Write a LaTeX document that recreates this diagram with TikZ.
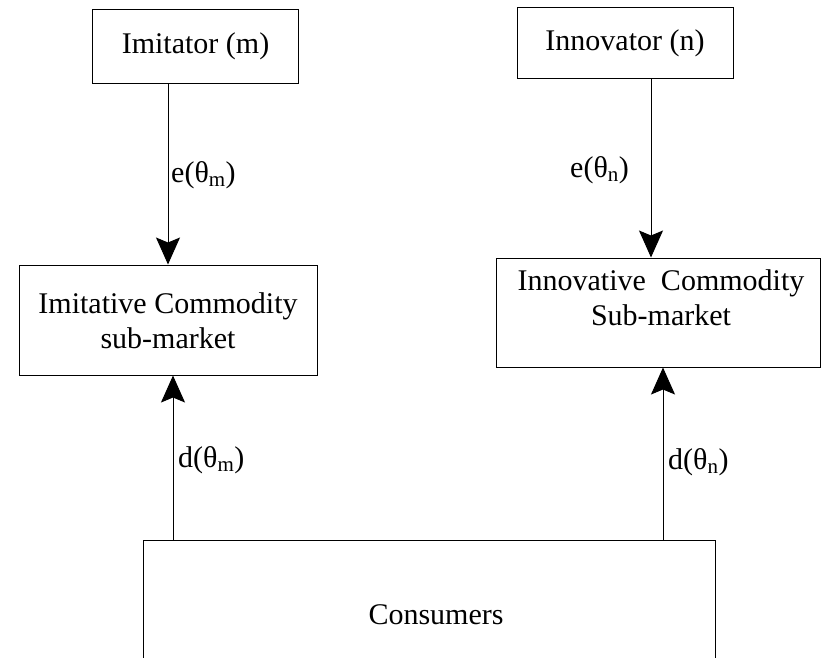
\documentclass[tikz,border=0pt]{standalone}
\usepackage{fontspec}
\setmainfont{Liberation Serif}
\usetikzlibrary{arrows.meta}
\begin{document}
\begin{tikzpicture}[x=1pt,y=-1pt,
  box/.style={draw, line width=1pt, inner sep=0pt},
  txt/.style={inner sep=0pt, align=center, font=\fontsize{30}{35}\selectfont},
  lbl/.style={inner sep=0pt, anchor=west, font=\fontsize{30}{35}\selectfont},
  arr/.style={line width=1pt, -{Stealth[length=27pt,width=24pt,inset=5pt]}}]
\useasboundingbox (0,0) rectangle (823,657);
\clip (0,0) rectangle (823,657);
% boxes
\node[box, minimum width=206pt, minimum height=74pt]  (imitator)   at (195,46)    {};
\node[box, minimum width=216pt, minimum height=71pt]  (innovator)  at (625,42.5)  {};
\node[box, minimum width=298pt, minimum height=110pt] (imitative)  at (168,320)   {};
\node[box, minimum width=324pt, minimum height=109pt] (innovative) at (658,312.5) {};
\node[box, minimum width=572pt, minimum height=150pt] (consumers)  at (429,615)   {};
% texts
\node[txt] (timitator)   at (195.5,46) {Imitator (m)};
\node[txt] (tinnovator)  at (625,43)   {Innovator (n)};
\node[txt] (timitative)  at (168,321)  {Imitative Commodity\\sub-market};
\node[txt] (tinnovative) at (661,298)  {Innovative\ \ Commodity\\Sub-market};
\node[txt] (tconsumers)  at (436,615)  {Consumers};
% connector x positions
\coordinate (xa) at (168,0);
\coordinate (xb) at (651,0);
\coordinate (xc) at (173,0);
\coordinate (xd) at (663,0);
\draw[arr] (imitator.south -| xa) -- (imitative.north -| xa);
\draw[arr] (innovator.south -| xb) -- (innovative.north -| xb);
\draw[arr] (consumers.north -| xc) -- (imitative.south -| xc);
\draw[arr] (consumers.north -| xd) -- (innovative.south -| xd);
% labels
\node[lbl] (em) at (171,175) {e(θ\textsubscript{m})};
\node[lbl] (en) at (570,170) {e(θ\textsubscript{n})};
\node[lbl] (dm) at (178,460) {d(θ\textsubscript{m})};
\node[lbl] (dn) at (668,462) {d(θ\textsubscript{n})};
\end{tikzpicture}
\end{document}
